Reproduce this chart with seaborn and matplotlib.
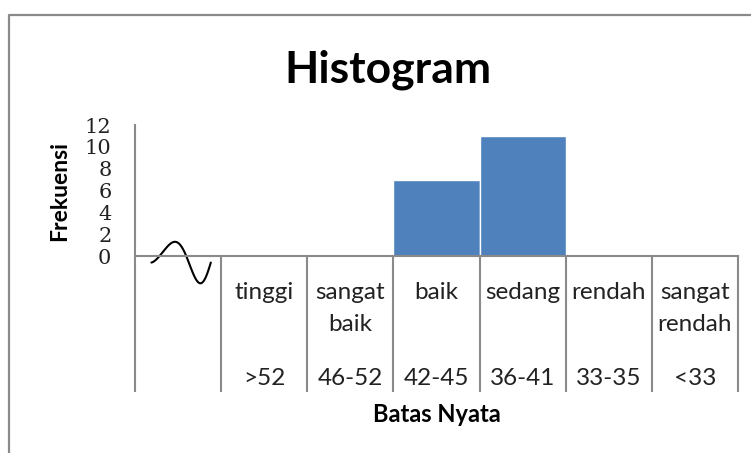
import numpy as np
import matplotlib
matplotlib.use("Agg")
import matplotlib.pyplot as plt
import matplotlib.transforms as mtransforms
from matplotlib.lines import Line2D
import seaborn as sns

# data
CATEGORIES = [" ", "tinggi", "sangat baik", "baik", "sedang", "rendah", "sangat rendah"]
LABEL_TOP = ["", "tinggi", "sangat", "baik", "sedang", "rendah", "sangat"]
LABEL_MID = ["", "", "baik", "", "", "", "rendah"]
RANGES = ["", ">52", "46-52", "42-45", "36-41", "33-35", "<33"]
FREQ = [0, 0, 0, 7, 11, 0, 0]
Y_TICKS = [0, 2, 4, 6, 8, 10, 12]

W, H = 751, 453
BLUE = "#4F81BD"
GRAY = "#8a8a8a"
TXT = "#222222"

sns.set_style("white")
plt.rcParams["font.family"] = ["Lato", "DejaVu Sans"]

fig = plt.figure(figsize=(W / 100, H / 100), dpi=100)
ax = fig.add_axes([135 / W, 1 - 256 / H, (738 - 135) / W, 131 / H])

sns.barplot(
    x=CATEGORIES, y=FREQ, order=CATEGORIES, color=BLUE, saturation=1,
    width=1.0, edgecolor="white", linewidth=1.0, ax=ax,
)
ax.set_xlim(-0.5, len(CATEGORIES) - 0.5)
ax.set_ylim(0, 12)
ax.set_yticks(Y_TICKS)
ax.set_xlabel("")
ax.set_ylabel("")

for side in ["top", "right"]:
    ax.spines[side].set_visible(False)
for side in ["left", "bottom"]:
    ax.spines[side].set_color(GRAY)
    ax.spines[side].set_linewidth(1.5)

ax.tick_params(axis="x", length=0, labelbottom=False)
ax.tick_params(axis="y", direction="out", length=5, width=1.3, color=GRAY,
               pad=12, labelsize=15, labelcolor=TXT)
for lab in ax.get_yticklabels():
    lab.set_family("DejaVu Serif")

# table-like separators under the axis
trans = mtransforms.blended_transform_factory(ax.transData, ax.transAxes)
bottom = (256 - 392) / 131
for i in range(len(CATEGORIES) + 1):
    ax.plot([i - 0.5, i - 0.5], [0, bottom], transform=trans, color=GRAY,
            lw=1.5, clip_on=False, solid_capstyle="butt")

row_y = [(256 - 299) / 131, (256 - 331) / 131, (256 - 385) / 131]
for i in range(len(CATEGORIES)):
    for txt, y in zip([LABEL_TOP[i], LABEL_MID[i], RANGES[i]], row_y):
        if txt:
            ax.text(i, y, txt, transform=trans, ha="center", va="baseline",
                    fontsize=17.5, color=TXT)

# axis-break squiggle in the empty first column (skewed one-period wave)
t = np.linspace(0, 1, 100)
ax.plot(-0.31 + 0.69 * t, -0.6 + 1.9 * np.sin(2 * np.pi * t ** 1.5),
        color="black", lw=1.5, clip_on=False)

fig.text(388 / W, 1 - 83 / H, "Histogram", ha="center", va="baseline",
         fontsize=32, fontweight="bold", color="black")
fig.text(60 / W, 1 - 191 / H, "Frekuensi", rotation=90, ha="center",
         va="center", fontsize=16.5, fontweight="bold", color="black")
fig.text(437 / W, 1 - 415 / H, "Batas Nyata", ha="center", va="center",
         fontsize=17, fontweight="bold", color="black")

# outer chart frame (only top and left edges are visible in the crop)
fig.add_artist(Line2D([9 / W, 9 / W, 1], [0, 1 - 15 / H, 1 - 15 / H],
                      transform=fig.transFigure, color=GRAY, lw=1.6))

fig.savefig("out.png", dpi=100)
